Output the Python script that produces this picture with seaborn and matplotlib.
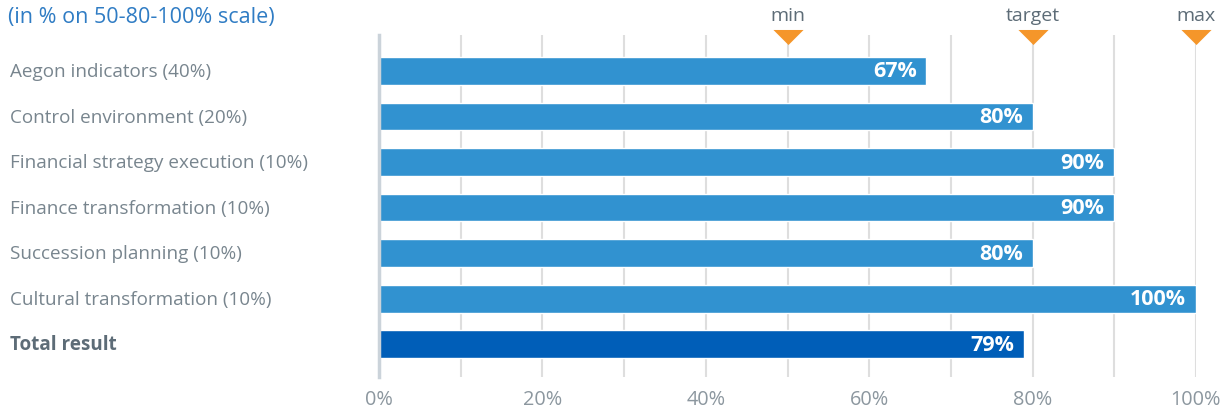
import matplotlib
matplotlib.use("Agg")
import matplotlib.pyplot as plt
import matplotlib.transforms as mtransforms
import seaborn as sns
import pandas as pd

categories = [
    "Aegon indicators (40%)",
    "Control environment (20%)",
    "Financial strategy execution (10%)",
    "Finance transformation (10%)",
    "Succession planning (10%)",
    "Cultural transformation (10%)",
    "Total result",
]
values = [67, 80, 90, 90, 80, 100, 79]
value_labels = ["67%", "80%", "90%", "90%", "80%", "100%", "79%"]
marker_names = ["min", "target", "max"]
marker_positions = [50, 80, 100]
xticks = [0, 20, 40, 60, 80, 100]
xtick_labels = ["0%", "20%", "40%", "60%", "80%", "100%"]
title = "(in % on 50-80-100% scale)"

sns.set_style("white")
plt.rcParams["font.family"] = ["Open Sans", "DejaVu Sans"]

bar_color = "#3192d0"
total_color = "#005eb8"
colors = [bar_color] * (len(categories) - 1) + [total_color]

df = pd.DataFrame({"category": categories, "value": values})

fig = plt.figure(figsize=(12.25, 4.10), dpi=100)
ax = fig.add_axes([379 / 1225, 1 - 378 / 410, (1196 - 379) / 1225, (378 - 36) / 410])

sns.barplot(data=df, x="value", y="category", hue="category", palette=colors,
            legend=False, ax=ax, width=0.61, saturation=1, dodge=False)

ax.set_xlim(0, 100)
ax.set_ylim(6.72, -0.79)

# grid
for gx in range(10, 101, 10):
    ax.axvline(gx, color="#dedede", lw=1.5, zorder=0)
for s in ["top", "right", "bottom"]:
    ax.spines[s].set_visible(False)
ax.spines["left"].set_color("#cbd3da")
ax.spines["left"].set_linewidth(2.5)
ax.spines["left"].set_zorder(3)

ax.set_xticks(xticks)
ax.set_xticklabels(xtick_labels, color="#8c979f", fontsize=14.3)
ax.tick_params(axis="x", length=0, pad=9)
ax.set_xlabel("")
ax.set_ylabel("")
ax.set_yticks([])

# category labels
ytrans = mtransforms.blended_transform_factory(fig.transFigure, ax.transData)
for i, c in enumerate(categories):
    bold = c == "Total result"
    ax.text(10 / 1225, i, c, transform=ytrans, ha="left", va="center",
            fontsize=13.6, color="#5d6c77" if bold else "#78858e",
            fontweight="bold" if bold else "normal")

# value labels
for i, (v, lab) in enumerate(zip(values, value_labels)):
    ax.text(v - 1.2, i, lab, ha="right", va="center", color="white",
            fontsize=15.5, fontweight="bold")

# markers
mtrans = mtransforms.blended_transform_factory(ax.transData, ax.transAxes)
tri = [(-1, 0.5), (1, 0.5), (0, -0.5), (-1, 0.5)]
ax.scatter(marker_positions, [0.995] * len(marker_positions), marker=tri, s=470,
           color="#f5962a", transform=mtrans, clip_on=False, zorder=5, linewidths=0)
for name, pos in zip(marker_names, marker_positions):
    ax.text(pos, 1.0 + 20 / 342, name, transform=mtrans, ha="center", va="center",
            fontsize=14, color="#5d6c77")

fig.text(8 / 1225, 1 - 18 / 410, title, ha="left", va="center", fontsize=15.5,
         color="#2f7cc4")

fig.savefig("out.png", dpi=100)
